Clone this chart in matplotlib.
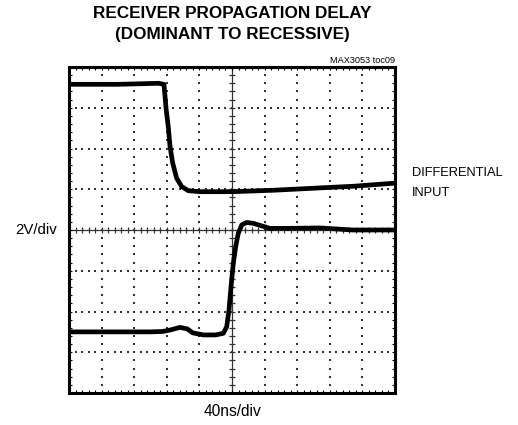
import matplotlib
matplotlib.use("Agg")
import matplotlib.pyplot as plt
import numpy as np

# time in ns (40 ns/div, 10 div), voltage in V (2 V/div, 8 div)
top_t = [0, 60, 110, 116.5, 119.3, 121.8, 124, 127.2, 132.1, 138.3, 146.4, 160.7, 200, 250, 300, 350, 400]
top_v = [7.15, 7.15, 7.2, 7.15, 5.88, 5.07, 4.09, 3.29, 2.54, 2.13, 1.93, 1.88, 1.88, 1.95, 2.05, 2.15, 2.3]

bot_t = [0, 100, 115, 125, 136, 145, 152, 165, 180, 189.3, 193.5, 196.3, 198.8, 201.6,
         204.5, 207.7, 212, 218, 225.8, 246.6, 267, 308, 348.5, 400]
bot_v = [-5.0, -5.0, -4.98, -4.9, -4.78, -4.85, -5.05, -5.15, -5.15, -5.07, -4.75, -3.93, -2.78, -1.64,
         -0.82, -0.16, 0.25, 0.37, 0.33, 0.08, 0.08, 0.1, 0.0, 0.0]

t_min, t_max = 0, 400
v_min, v_max = -8, 8

narrow = ['Liberation Sans Narrow', 'Liberation Sans', 'DejaVu Sans']

fig = plt.figure(figsize=(5.18, 4.25), dpi=100)
ax = fig.add_axes([69/518, 1 - 393/425, 326/518, 326/425])
ax.set_xlim(t_min, t_max)
ax.set_ylim(v_min, v_max)

# dotted graticule
minor_t = np.arange(t_min, t_max + 0.1, 8)
minor_v = np.arange(v_min, v_max + 0.01, 0.4)
for gx in range(40, 400, 40):
    if gx == 200:
        continue
    ax.scatter(np.full(len(minor_v), gx), minor_v, s=1.5, marker='s', color='#333', lw=0, zorder=1)
for gy in range(-6, 8, 2):
    if gy == 0:
        continue
    ax.scatter(minor_t, np.full(len(minor_t), gy), s=1.5, marker='s', color='#333', lw=0, zorder=1)

# center cross with ticks
ax.axhline(0, color='#333', lw=0.9, zorder=1)
ax.axvline(200, color='#333', lw=0.9, zorder=1)
ax.plot(minor_t, np.zeros(len(minor_t)), ls='none', marker='|', ms=5, mew=0.9, color='#333', zorder=1)
ax.plot(np.full(len(minor_v), 200), minor_v, ls='none', marker='_', ms=5, mew=0.9, color='#333', zorder=1)

# traces
ax.plot(top_t, top_v, color='black', lw=3.4, solid_joinstyle='round', zorder=3)
ax.plot(bot_t, bot_v, color='black', lw=3.4, solid_joinstyle='round', zorder=3)

ax.set_xticks(minor_t)
ax.set_yticks(minor_v)
ax.tick_params(direction='in', length=2.2, width=0.8, top=True, right=True,
               labelbottom=False, labelleft=False)
for s in ax.spines.values():
    s.set_linewidth(2.2)

fig.text(232.5/518, 1 - 14/425, 'RECEIVER PROPAGATION DELAY', ha='center', va='center',
         fontsize=12.3, fontweight='bold', family=narrow)
fig.text(232.5/518, 1 - 35/425, '(DOMINANT TO RECESSIVE)', ha='center', va='center',
         fontsize=12.3, fontweight='bold', family=narrow)
fig.text(395/518, 1 - 63/425, 'MAX3053 toc09', ha='right', va='baseline',
         fontsize=6.6, family=narrow)
fig.text(15/518, 1 - 230/425, '2V/div', ha='left', va='center', fontsize=10.8, family=narrow)
fig.text(233/518, 1 - 412/425, '40ns/div', ha='center', va='center', fontsize=11.2, family=narrow)
fig.text(412/518, 1 - 173/425, 'DIFFERENTIAL', ha='left', va='center', fontsize=9.3, family=narrow)
fig.text(412/518, 1 - 193.5/425, 'INPUT', ha='left', va='center', fontsize=9.3, family=narrow)

fig.savefig('out.png', dpi=100)
